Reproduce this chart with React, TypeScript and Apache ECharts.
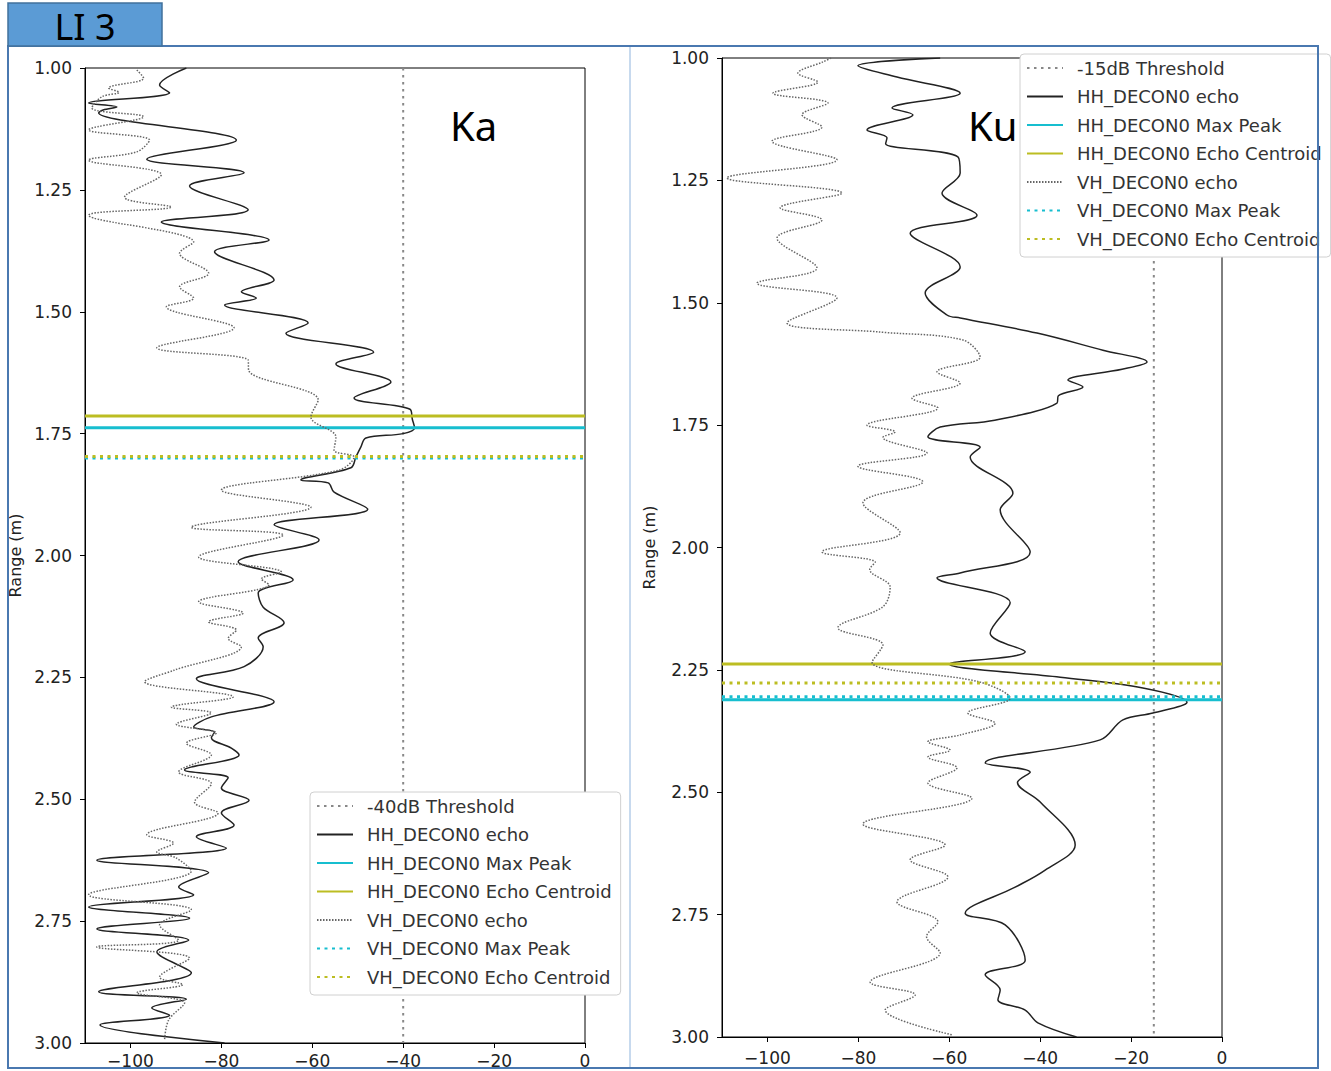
import React, { useEffect, useRef } from "react";
import * as echarts from "echarts";

// ---------- axis settings ----------
const xMin = -110;
const xMax = 0;
const xTicks = [-100, -80, -60, -40, -20, 0];
const yMin = 1;
const yMax = 3;
const yInterval = 0.25;

// ---------- Ka panel ----------
const kaThreshold = -40;
const kaThresholdName = "-40dB Threshold";
const kaHHMaxPeak = 1.738;
const kaHHCentroid = 1.714;
const kaVHMaxPeak = 1.8;
const kaVHCentroid = 1.797;

// [dB, range (m)]
const kaHHEcho: [number, number][] = [
  [-87.7, 1.0], [-93.6, 1.035], [-91.4, 1.051], [-109.2, 1.072], [-103.0, 1.08], [-106.0, 1.086],
  [-107.0, 1.092], [-76.7, 1.148], [-96.4, 1.187], [-75.0, 1.215], [-87.0, 1.242], [-74.1, 1.291],
  [-93.2, 1.316], [-69.5, 1.353], [-81.5, 1.377], [-68.4, 1.435], [-75.6, 1.459], [-72.3, 1.472],
  [-79.3, 1.486], [-60.9, 1.523], [-65.8, 1.544], [-46.5, 1.583], [-54.8, 1.607], [-42.7, 1.644],
  [-50.8, 1.677], [-38.5, 1.7], [-38.0, 1.72], [-37.5, 1.738], [-40.0, 1.75], [-48.2, 1.759],
  [-49.3, 1.777], [-50.4, 1.798], [-51.5, 1.82], [-62.5, 1.845], [-56.5, 1.851], [-55.2, 1.87],
  [-47.8, 1.905], [-68.4, 1.937], [-58.5, 1.968], [-76.3, 2.013], [-64.2, 2.05], [-71.9, 2.077],
  [-70.8, 2.106], [-66.2, 2.138], [-71.9, 2.169], [-70.8, 2.187], [-75.0, 2.228], [-85.5, 2.253],
  [-68.4, 2.3], [-82.2, 2.331], [-86.1, 2.352], [-81.5, 2.362], [-82.2, 2.374], [-77.8, 2.395],
  [-76.1, 2.409], [-88.1, 2.44], [-78.5, 2.456], [-80.0, 2.477], [-73.9, 2.502], [-80.0, 2.528],
  [-77.2, 2.553], [-85.5, 2.577], [-78.9, 2.6], [-107.4, 2.625], [-82.8, 2.651], [-89.4, 2.68],
  [-86.1, 2.696], [-109.2, 2.721], [-87.0, 2.744], [-107.4, 2.766], [-87.2, 2.789], [-94.2, 2.813],
  [-86.6, 2.856], [-107.0, 2.895], [-87.7, 2.91], [-95.3, 2.928], [-91.4, 2.943], [-106.7, 2.963],
  [-79.3, 3.0],
];

const kaVHEcho: [number, number][] = [
  [-98.6, 1.004], [-97.1, 1.021], [-104.8, 1.041], [-102.5, 1.05], [-106.3, 1.059], [-108.5, 1.082],
  [-97.1, 1.1], [-109.2, 1.127], [-95.8, 1.148], [-98.6, 1.172], [-109.2, 1.189], [-93.2, 1.219],
  [-101.3, 1.265], [-91.0, 1.285], [-109.2, 1.302], [-86.1, 1.357], [-89.2, 1.38], [-82.8, 1.421],
  [-89.2, 1.449], [-86.1, 1.472], [-92.1, 1.49], [-77.2, 1.533], [-94.2, 1.574], [-74.1, 1.599],
  [-74.0, 1.62], [-58.7, 1.681], [-60.3, 1.716], [-54.8, 1.757], [-55.2, 1.784], [-50.8, 1.798],
  [-54.1, 1.825], [-80.0, 1.866], [-60.3, 1.901], [-86.6, 1.942], [-66.4, 1.958], [-85.0, 2.003],
  [-66.8, 2.034], [-71.2, 2.048], [-69.5, 2.06], [-85.0, 2.095], [-75.2, 2.118], [-82.8, 2.136],
  [-76.7, 2.153], [-78.5, 2.17], [-75.6, 2.187], [-90.3, 2.235], [-96.9, 2.259], [-77.4, 2.29],
  [-91.0, 2.311], [-82.2, 2.323], [-89.9, 2.346], [-81.1, 2.364], [-87.7, 2.385], [-82.2, 2.409],
  [-89.4, 2.444], [-82.2, 2.468], [-85.9, 2.506], [-80.7, 2.528], [-96.4, 2.573], [-90.5, 2.59],
  [-94.2, 2.608], [-90.0, 2.62], [-86.6, 2.647], [-109.2, 2.696], [-86.6, 2.727], [-93.6, 2.758],
  [-89.4, 2.789], [-107.4, 2.803], [-87.0, 2.826], [-93.6, 2.865], [-88.5, 2.88], [-98.6, 2.897],
  [-88.1, 2.918], [-91.6, 2.953], [-92.5, 2.994],
];

// ---------- Ku panel ----------
const kuThreshold = -15;
const kuThresholdName = "-15dB Threshold";
const kuHHMaxPeak = 2.311;
const kuHHCentroid = 2.238;
const kuVHMaxPeak = 2.305;
const kuVHCentroid = 2.277;

const kuHHEcho: [number, number][] = [
  [-62.0, 1.0], [-80.1, 1.016], [-71.5, 1.039], [-57.6, 1.072], [-72.6, 1.102], [-68.0, 1.116],
  [-78.1, 1.147], [-73.7, 1.163], [-74.0, 1.175], [-58.1, 1.202], [-57.6, 1.235], [-61.6, 1.276],
  [-53.9, 1.321], [-68.6, 1.358], [-57.6, 1.427], [-65.3, 1.48], [-60.5, 1.525], [-57.6, 1.531],
  [-40.7, 1.562], [-26.2, 1.597], [-16.5, 1.621], [-22.0, 1.636], [-33.9, 1.658], [-30.6, 1.672],
  [-36.0, 1.69], [-36.3, 1.705], [-50.0, 1.74], [-62.0, 1.754], [-64.7, 1.774], [-53.2, 1.795],
  [-55.4, 1.815], [-46.0, 1.889], [-48.8, 1.923], [-42.2, 2.009], [-57.6, 2.052], [-62.7, 2.062],
  [-46.6, 2.113], [-51.0, 2.175], [-43.3, 2.213], [-60.0, 2.238], [-35.6, 2.265], [-17.4, 2.287],
  [-7.7, 2.316], [-15.2, 2.338], [-21.8, 2.352], [-26.8, 2.393], [-52.1, 2.44], [-42.2, 2.459],
  [-45.0, 2.48], [-40.0, 2.52], [-32.3, 2.608], [-38.9, 2.659], [-45.5, 2.694], [-56.5, 2.747],
  [-47.7, 2.771], [-43.3, 2.843], [-52.1, 2.873], [-48.8, 2.904], [-49.3, 2.924], [-43.3, 2.945],
  [-40.5, 2.971], [-32.0, 3.0],
];

const kuVHEcho: [number, number][] = [
  [-86.0, 1.0], [-87.8, 1.008], [-93.3, 1.031], [-88.9, 1.049], [-98.8, 1.072], [-86.7, 1.092],
  [-92.4, 1.116], [-88.0, 1.141], [-99.0, 1.17], [-84.7, 1.208], [-108.9, 1.245], [-83.6, 1.276],
  [-97.2, 1.306], [-88.0, 1.331], [-97.9, 1.368], [-89.1, 1.429], [-102.3, 1.46], [-84.7, 1.49],
  [-95.7, 1.541], [-75.0, 1.56], [-57.0, 1.576], [-53.2, 1.611], [-62.7, 1.641], [-57.6, 1.664],
  [-68.2, 1.695], [-62.5, 1.715], [-78.1, 1.75], [-71.9, 1.764], [-74.6, 1.775], [-64.9, 1.807],
  [-80.1, 1.834], [-65.8, 1.866], [-79.0, 1.909], [-70.8, 1.97], [-88.0, 2.009], [-76.3, 2.03],
  [-77.5, 2.045], [-73.0, 2.081], [-74.6, 2.121], [-84.5, 2.164], [-74.6, 2.199], [-77.0, 2.234],
  [-53.2, 2.275], [-46.6, 2.308], [-55.9, 2.338], [-49.9, 2.359], [-57.6, 2.383], [-64.7, 2.397],
  [-59.8, 2.414], [-64.7, 2.428], [-58.3, 2.45], [-64.7, 2.481], [-55.0, 2.512], [-79.0, 2.565],
  [-60.9, 2.608], [-68.6, 2.638], [-60.3, 2.673], [-71.5, 2.724], [-62.5, 2.765], [-65.0, 2.795],
  [-62.0, 2.828], [-77.4, 2.888], [-67.5, 2.914], [-74.1, 2.945], [-59.2, 2.996],
];

// ---------- series names ----------
const hhEchoName = "HH_DECON0 echo";
const hhMaxName = "HH_DECON0 Max Peak";
const hhCentName = "HH_DECON0 Echo Centroid";
const vhEchoName = "VH_DECON0 echo";
const vhMaxName = "VH_DECON0 Max Peak";
const vhCentName = "VH_DECON0 Echo Centroid";

const CYAN = "#17becf";
const OLIVE = "#bcbd22";
const FONT = "DejaVu Sans";

function hline(v: number): [number, number][] {
  return [
    [xMin, v],
    [xMax, v],
  ];
}
function vline(v: number): [number, number][] {
  return [
    [v, yMin],
    [v, yMax],
  ];
}

function panelSeries(
  idx: number,
  thrName: string,
  thr: number,
  hh: [number, number][],
  vh: [number, number][],
  hhMax: number,
  hhCent: number,
  vhMax: number,
  vhCent: number
) {
  const base = {
    type: "line",
    xAxisIndex: idx,
    yAxisIndex: idx,
    symbol: "none",
    showSymbol: false,
    silent: true,
  };
  const mk = (name: string, data: [number, number][], color: string, width: number, type: any, smooth?: number) => ({
    ...base,
    name,
    data,
    smooth: smooth ?? false,
    itemStyle: { color, opacity: 0 },
    lineStyle: { color, width, type },
  });
  return [
    mk(thrName, vline(thr), "#888", 2, [2.5, 4.5]),
    mk(hhEchoName, hh, "#222", 1.5, "solid", 0.35),
    mk(hhMaxName, hline(hhMax), CYAN, 3, "solid"),
    mk(hhCentName, hline(hhCent), OLIVE, 3, "solid"),
    mk(vhEchoName, vh, "#666", 1.5, [1.5, 1.5], 0.35),
    mk(vhMaxName, hline(vhMax), CYAN, 3, [3, 4.5]),
    mk(vhCentName, hline(vhCent), OLIVE, 3, [3, 4.5]),
  ];
}

function xAxisCfg(idx: number, margin: number) {
  return {
    type: "value",
    gridIndex: idx,
    min: xMin,
    max: xMax,
    splitLine: { show: false },
    axisLine: { show: true, onZero: false, lineStyle: { color: "#000", width: 1 } },
    axisTick: { show: true, inside: false, length: 5, customValues: xTicks, lineStyle: { color: "#000" } },
    axisLabel: {
      customValues: xTicks,
      color: "#222",
      fontFamily: FONT,
      fontSize: 17,
      margin,
      formatter: (v: number) => (v < 0 ? "\u2212" + Math.abs(v) : String(v)),
    },
  };
}

function yAxisCfg(idx: number, gap: number) {
  return {
    type: "value",
    gridIndex: idx,
    min: yMin,
    max: yMax,
    interval: yInterval,
    inverse: true,
    name: "Range (m)",
    nameLocation: "middle",
    nameGap: gap,
    nameTextStyle: { color: "#222", fontFamily: FONT, fontSize: 16 },
    splitLine: { show: false },
    axisLine: { show: true, onZero: false, lineStyle: { color: "#000", width: 1 } },
    axisTick: { show: true, inside: false, length: 5, lineStyle: { color: "#000" } },
    axisLabel: {
      color: "#222",
      fontFamily: FONT,
      fontSize: 17,
      margin: 13,
      formatter: (v: number) => v.toFixed(2),
    },
  };
}

function legendCfg(left: number, top: number, thrName: string) {
  return {
    orient: "vertical",
    left,
    top,
    data: [thrName, hhEchoName, hhMaxName, hhCentName, vhEchoName, vhMaxName, vhCentName],
    backgroundColor: "#fff",
    borderColor: "#d0d0d0",
    borderWidth: 1,
    borderRadius: 4,
    padding: [4, 9, 8, 6],
    itemWidth: 36,
    itemHeight: 14,
    itemGap: 8.5,
    selectedMode: false,
    itemStyle: { opacity: 0, borderWidth: 0 },
    textStyle: {
      color: "#333",
      fontFamily: FONT,
      fontSize: 18,
      lineHeight: 20,
      padding: [0, 0, 0, 9],
    },
  };
}

export default function App() {
  const ref = useRef<HTMLDivElement>(null);
  useEffect(() => {
    if (!ref.current) return;
    const chart = echarts.init(ref.current, null, { renderer: "svg" });
    chart.setOption({
      animation: false,
      backgroundColor: "#fff",
      grid: [
        { left: 85, right: 1331 - 585, top: 68, bottom: 1071 - 1043, show: true, borderColor: "#000", borderWidth: 1, backgroundColor: "transparent" },
        { left: 722, right: 1331 - 1222, top: 58, bottom: 1071 - 1037, show: true, borderColor: "#000", borderWidth: 1, backgroundColor: "transparent" },
      ],
      xAxis: [xAxisCfg(0, 9), xAxisCfg(1, 12)],
      yAxis: [yAxisCfg(0, 62), yAxisCfg(1, 65)],
      legend: [legendCfg(310, 792, kaThresholdName), legendCfg(1020, 54, kuThresholdName)],
      series: [
        ...panelSeries(0, kaThresholdName, kaThreshold, kaHHEcho, kaVHEcho, kaHHMaxPeak, kaHHCentroid, kaVHMaxPeak, kaVHCentroid),
        ...panelSeries(1, kuThresholdName, kuThreshold, kuHHEcho, kuVHEcho, kuHHMaxPeak, kuHHCentroid, kuVHMaxPeak, kuVHCentroid),
      ],
      graphic: [
        {
          type: "text",
          left: 450,
          top: 105,
          z: 10,
          style: { text: "Ka", fontFamily: "Noto Sans", fontSize: 40, fill: "#000" },
        },
        {
          type: "text",
          left: 968,
          top: 105,
          z: 10,
          style: { text: "Ku", fontFamily: "Noto Sans", fontSize: 40, fill: "#000" },
        },
        {
          type: "line",
          z: 100,
          shape: { x1: 630, y1: 46, x2: 630, y2: 1068 },
          style: { stroke: "#8fb4dd", lineWidth: 1 },
        },
        {
          type: "rect",
          z: 100,
          shape: { x: 8, y: 46, width: 1310, height: 1022 },
          style: { fill: "none", stroke: "#4a78b0", lineWidth: 2 },
        },
        {
          type: "rect",
          z: 100,
          shape: { x: 8, y: 3, width: 154, height: 43 },
          style: { fill: "#5b9bd5", stroke: "#41719c", lineWidth: 1.5 },
        },
        {
          type: "text",
          z: 101,
          x: 85,
          y: 26,
          style: {
            text: "LI 3",
            fontFamily: "Noto Sans",
            fontSize: 36,
            fill: "#000",
            align: "center",
            verticalAlign: "middle",
          },
        },
      ],
    });
    return () => chart.dispose();
  }, []);
  return <div ref={ref} style={{ position: "fixed", left: 0, top: 0, width: 1331, height: 1071 }} />;
}
